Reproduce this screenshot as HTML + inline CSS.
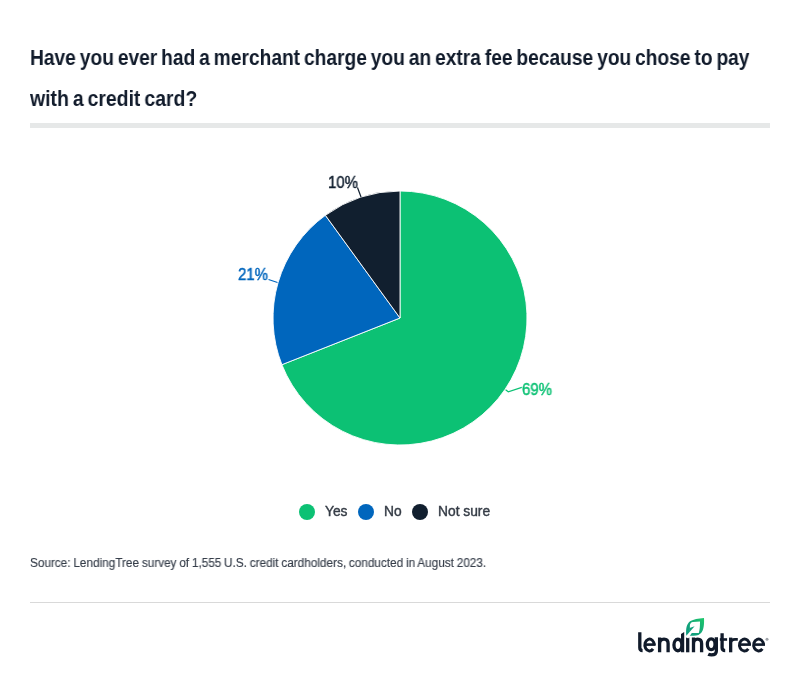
<!DOCTYPE html>
<html><head><meta charset="utf-8">
<style>
html,body{margin:0;padding:0;background:#fff;}
body{width:800px;height:673px;position:relative;overflow:hidden;font-family:"Liberation Sans",sans-serif;}
.abs{position:absolute;white-space:nowrap;will-change:transform;}
.title{left:30px;font-weight:bold;font-size:21.2px;color:#111b2b;line-height:24px;transform-origin:0 0;word-spacing:-1.6px;}
.bar{left:30px;top:123px;width:740px;height:5px;background:#e6e8e8;}
.lbl{font-size:15.8px;line-height:18px;transform:scaleX(0.95);-webkit-text-stroke:0.45px currentColor;transform-origin:0 0;}
.leg{font-size:13.8px;line-height:16px;color:#353c46;-webkit-text-stroke:0.4px currentColor;}
.dot{width:16px;height:16px;border-radius:50%;top:504px;}
.src{left:30px;font-size:12px;color:#363e4a;line-height:14px;transform-origin:0 0;transform:scaleX(0.981);word-spacing:-0.5px;-webkit-text-stroke:0.15px currentColor;}
.hr{left:30px;top:602px;width:740px;height:1px;background:#d9d9d9;}
.logo{font-weight:bold;font-size:27px;color:#111b2b;line-height:30px;}
</style></head><body>
<div class="abs title" style="top:46.2px;transform:scaleX(0.9057)">Have you ever had a merchant charge you an extra fee because you chose to pay</div>
<div class="abs title" style="top:87px;transform:scaleX(0.917)">with a credit card?</div>
<div class="abs bar"></div>

<svg class="abs" style="left:0;top:0" width="800" height="673" viewBox="0 0 800 673">
  <g stroke="#fff" stroke-width="0.9" stroke-linejoin="round">
    <path d="M400 318 L400 191 A127 127 0 1 1 281.9 364.7 Z" fill="#0cc174"/>
    <path d="M400 318 L281.9 364.7 A127 127 0 0 1 325.4 215.3 Z" fill="#0066bd"/>
    <path d="M400 318 L325.4 215.3 A127 127 0 0 1 400 191 Z" fill="#111f2f"/>
  </g>
  <g fill="none" stroke-width="1.2">
    <path d="M357.5 187.5 L361 197" stroke="#111f2f"/>
    <path d="M268.5 279.5 L277.5 282.5" stroke="#0066bd"/>
    <path d="M505.6 389.7 L508.3 391.8 L521.8 387.4" stroke="#0cc174"/>
  </g>
</svg>
<div class="abs lbl" style="left:328px;top:174px;color:#111f2f">10%</div>
<div class="abs lbl" style="left:238px;top:266px;color:#0066bd">21%</div>
<div class="abs lbl" style="left:522px;top:381.3px;color:#0cc174">69%</div>

<div class="abs dot" style="left:299px;background:#0cc174"></div>
<div class="abs leg" style="left:325px;top:504px">Yes</div>
<div class="abs dot" style="left:358px;background:#0066bd"></div>
<div class="abs leg" style="left:384px;top:504px">No</div>
<div class="abs dot" style="left:412px;background:#111f2f"></div>
<div class="abs leg" style="left:438px;top:504px">Not sure</div>

<div class="abs src" style="top:556px">Source: LendingTree survey of 1,555 U.S. credit cardholders, conducted in August 2023.</div>
<div class="abs hr"></div>

<svg class="abs" style="left:0;top:0" width="800" height="673" viewBox="0 0 800 673">
  <defs><linearGradient id="lg" x1="0" y1="1" x2="1" y2="0"><stop offset="0" stop-color="#0d9a80"/><stop offset="0.45" stop-color="#13a57a"/><stop offset="1" stop-color="#1ec96a"/></linearGradient></defs>
  <g fill="none" stroke="#111b2b" stroke-width="3.3">
    <path d="M639.8 632.3V647.8Q639.8 650.6 642.6 650.6"/>
    <path d="M645 644.6H655.6" stroke-width="2.6"/>
    <path d="M654.15 645.00A4.65 5.95 0 1 0 653.06 648.82" stroke-width="2.95"/>
    <path d="M659.6 652.3V637.5M659.6 644C659.6 640.6 661.5 639.15 664 639.15C666.8 639.15 668.1 640.9 668.1 643.6V652.3"/>
    <path d="M681 634L684.2 632V652.3H681Z" fill="#111b2b" stroke="none"/>
    <ellipse cx="677.9" cy="645" rx="3.95" ry="5.75"/>
    <path d="M687.7 637.6V652.3"/>
    <path d="M693.5 652.3V637.5M693.5 644C693.5 640.6 695.2 639.15 697.6 639.15C700.3 639.15 701.6 640.9 701.6 643.6V652.3"/>
    <ellipse cx="711.2" cy="644.3" rx="3.85" ry="5.35"/>
    <path d="M716.35 637.3V651C716.35 654.3 714 654.85 711.5 654.85C710 654.85 709 654.6 708.2 654.2"/>
    <path d="M722.1 633.2V647.8Q722.1 650.6 725.2 650.6"/>
    <path d="M719.8 639.5H727.1" stroke-width="2.6"/>
    <path d="M730.65 652.3V637.6"/><path d="M730.65 643.5C730.65 640.6 732.5 639.4 735 639.4H737.8" stroke-width="2.6"/>
    <path d="M740 644.6H750.9" stroke-width="2.6"/>
    <path d="M749.45 645.00A5.00 5.95 0 1 0 748.28 648.82" stroke-width="2.95"/>
    <path d="M754 644.6H765" stroke-width="2.6"/>
    <path d="M763.55 645.00A4.95 5.95 0 1 0 762.39 648.82" stroke-width="2.95"/>
  </g>
  <circle cx="767" cy="639.2" r="1.5" fill="#a0a4aa"/>
  <path d="M686.3 635.8C685.6 629 686.5 623.5 690.5 621C693.5 619.2 698 618.5 704 617.9C704.3 624 703.8 629.5 701.5 632.5C700 634.5 697.5 635.8 693.5 635.8Z" fill="url(#lg)"/>
  <path d="M689.9 632.9V625.5C689.9 623.5 691 622.1 693 621.9L700 621.6C700 626 699.8 629.8 698.8 632.9Z" fill="#fff"/>
  <path d="M685.65 636.56L693.5 627.5L694.8 628.6L688.1 638.5Z" fill="#fff"/>
  <path d="M689.6 627.9L694.6 626.2L689.6 631.9Z" fill="#109f7c"/>
</svg>
</body></html>
